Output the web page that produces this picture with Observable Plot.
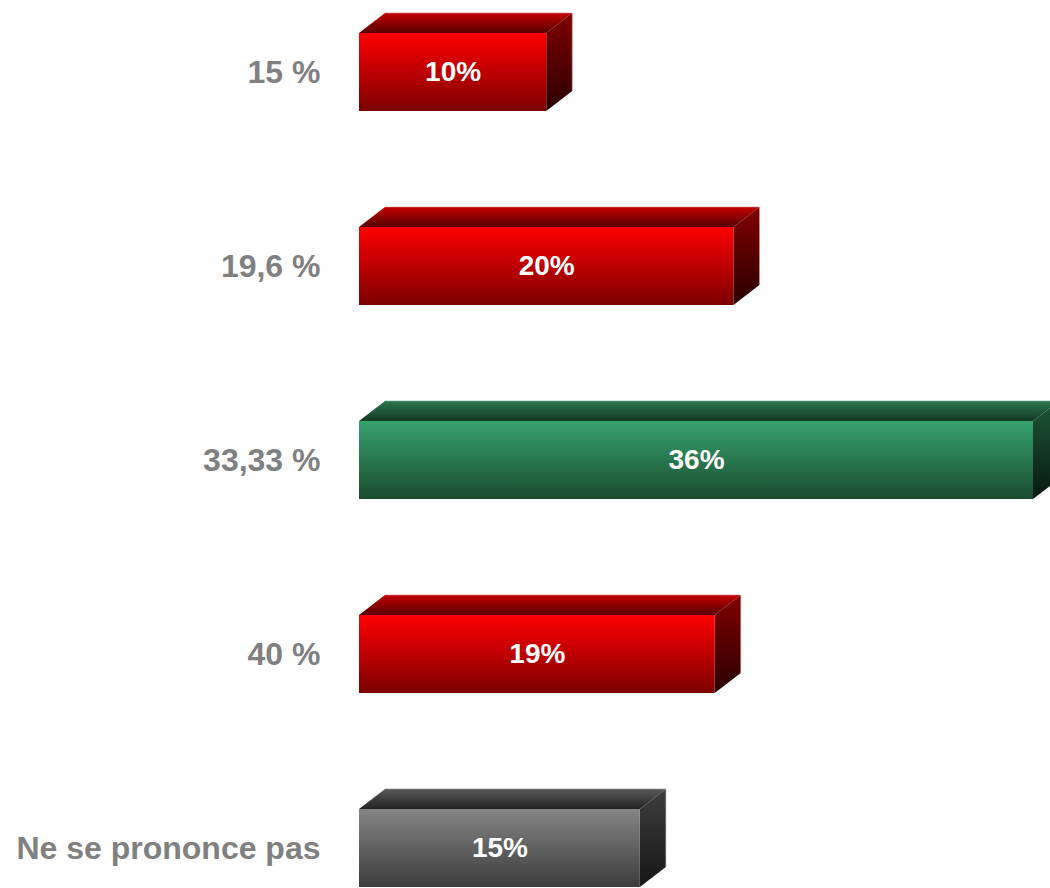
<!DOCTYPE html>
<html>
<head>
<meta charset="utf-8">
<script src="https://cdn.jsdelivr.net/npm/d3@7"></script>
<script src="https://cdn.jsdelivr.net/npm/@observablehq/plot@0.6"></script>
<style>
  html, body { margin: 0; padding: 0; background: #ffffff; }
  #chart svg { display: block; }
</style>
</head>
<body>
<div id="chart"></div>
<script>
// Data
const categories = ["15 %", "19,6 %", "33,33 %", "40 %", "Ne se prononce pas"];
const values = [10, 20, 36, 19, 15];
const highlight = "33,33 %";
const neutral = "Ne se prononce pas";

const data = categories.map((c, i) => ({category: c, value: values[i]}));
const kind = d => d.category === highlight ? "green" : d.category === neutral ? "grey" : "red";

const palettes = {
  red:   {front: ["#ff0000", "#7c0000"], top: ["#c40000", "#560000"], side: ["#800000", "#2a0000"], edge: "#d98080"},
  green: {front: ["#37a36d", "#1a4b2f"], top: ["#2e7650", "#133822"], side: ["#1f5638", "#08190f"], edge: "#6aa888"},
  grey:  {front: ["#858585", "#3c3c3c"], top: ["#5a5a5a", "#222222"], side: ["#3e3e3e", "#161616"], edge: "#8a8a8a"}
};
const depthX = 26, depthY = 20;

function gradient(defs, id, c0, c1) {
  const g = defs.append("linearGradient").attr("id", id).attr("x1", 0).attr("y1", 0).attr("x2", 0).attr("y2", 1);
  g.append("stop").attr("offset", "0%").attr("stop-color", c0);
  g.append("stop").attr("offset", "100%").attr("stop-color", c1);
}

// 3D faces (top + side) drawn through Plot's scales
function faces(index, scales) {
  const x = scales.x, y = scales.y;
  const bw = y.bandwidth ? y.bandwidth() : 78;
  const g = d3.create("svg:g");
  const defs = g.append("defs");
  for (const [k, p] of Object.entries(palettes)) {
    gradient(defs, `front-${k}`, p.front[0], p.front[1]);
    gradient(defs, `top-${k}`, p.top[0], p.top[1]);
    gradient(defs, `side-${k}`, p.side[0], p.side[1]);
  }
  for (const d of data) {
    const k = kind(d);
    const x0 = x(0), x1 = x(d.value);
    const yt = y(d.category), yb = yt + bw;
    g.append("path")
      .attr("d", `M${x0},${yt}L${x1},${yt}L${x1 + depthX},${yt - depthY}L${x0 + depthX},${yt - depthY}Z`)
      .attr("fill", `url(#top-${k})`);
    g.append("path")
      .attr("d", `M${x1},${yt}L${x1 + depthX},${yt - depthY}L${x1 + depthX},${yb - depthY}L${x1},${yb}Z`)
      .attr("fill", `url(#side-${k})`);
    g.append("path")
      .attr("d", `M${x0 + depthX},${yt - depthY}L${x1 + depthX},${yt - depthY}L${x1 + depthX},${yb - depthY}`)
      .attr("fill", "none").attr("stroke", palettes[k].edge).attr("stroke-width", 1).attr("stroke-opacity", 0.6);
  }
  return g.node();
}

const chart = Plot.plot({
  width: 1050,
  height: 888,
  marginLeft: 359,
  marginRight: 17,
  marginTop: 0,
  marginBottom: 0,
  style: {fontFamily: "'Liberation Sans', Arial, sans-serif", background: "#ffffff"},
  x: {domain: [0, 36], axis: null},
  y: {domain: categories, range: [-26.35, 946.15], paddingInner: 0.6, paddingOuter: 0.3, axis: null},
  marks: [
    faces,
    ...Object.keys(palettes).map(k =>
      Plot.barX(data, {filter: d => kind(d) === k, x: "value", y: "category", fill: `url(#front-${k})`})
    ),
    Plot.text(data, {
      x: d => d.value / 2, y: "category", text: d => `${d.value}%`,
      fill: "white", fontSize: 28, fontWeight: "bold"
    }),
    Plot.axisY({
      tickSize: 0, tickPadding: 39, fontSize: 32, fontWeight: "bold",
      color: "#808080", fill: "#808080", label: null
    })
  ]
});
document.getElementById("chart").appendChild(chart);
</script>
</body>
</html>
